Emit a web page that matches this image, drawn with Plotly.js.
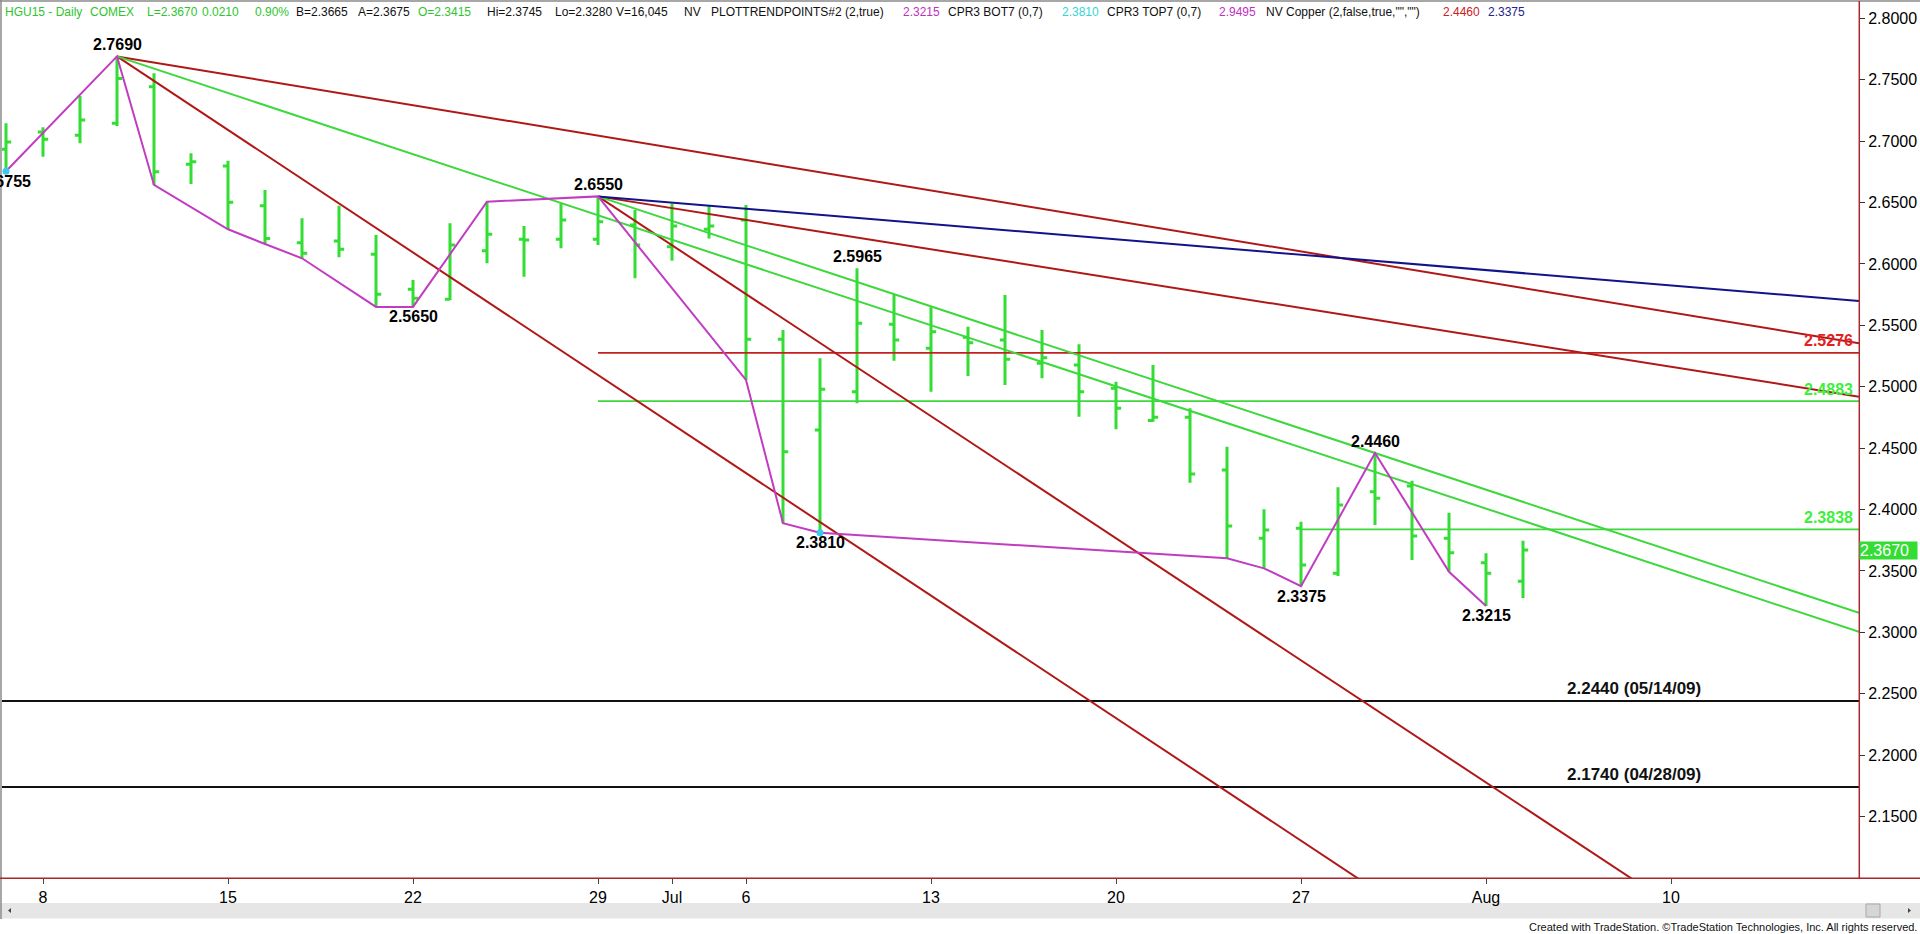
<!DOCTYPE html>
<html><head><meta charset="utf-8">
<script src="https://cdn.plot.ly/plotly-3.0.1.min.js"></script>
<style>html,body{margin:0;padding:0;background:#fff;overflow:hidden}#chart{width:1920px;height:934px}</style>
</head><body><div id="chart"></div>
<script>
// ---------------- DATA ----------------
const dates = ['2015-06-05','2015-06-08','2015-06-09','2015-06-10','2015-06-11','2015-06-12',
 '2015-06-15','2015-06-16','2015-06-17','2015-06-18','2015-06-19',
 '2015-06-22','2015-06-23','2015-06-24','2015-06-25','2015-06-26',
 '2015-06-29','2015-06-30','2015-07-01','2015-07-02',
 '2015-07-06','2015-07-07','2015-07-08','2015-07-09','2015-07-10',
 '2015-07-13','2015-07-14','2015-07-15','2015-07-16','2015-07-17',
 '2015-07-20','2015-07-21','2015-07-22','2015-07-23','2015-07-24',
 '2015-07-27','2015-07-28','2015-07-29','2015-07-30','2015-07-31',
 '2015-08-03','2015-08-04'];
const opens = [2.6933,2.7074,2.7047,2.7145,2.7443,2.6811,
 2.6797,2.6474,2.6173,2.6187,2.6078,
 2.5793,2.5712,2.6107,2.6200,2.6200,
 2.6200,2.6317,2.6140,2.6282,
 2.6357,2.5386,2.4647,2.4959,2.5508,
 2.5313,2.5402,2.5380,2.5191,2.5177,
 2.4987,2.4725,2.4751,2.4322,2.3765,
 2.3847,2.3480,2.4145,2.4191,2.3765,
 2.3567,2.3415];
const highs = [2.7145,2.7112,2.7367,2.7690,2.7552,2.6901,
 2.6840,2.6602,2.6371,2.6474,2.6235,
 2.5869,2.6331,2.6507,2.6309,2.6493,
 2.6550,2.6439,2.6493,2.6471,
 2.6480,2.5462,2.5231,2.5965,2.5747,
 2.5647,2.5489,2.5747,2.5462,2.5345,
 2.5041,2.5177,2.4824,2.4511,2.4002,
 2.3901,2.4181,2.4460,2.4235,2.3974,
 2.3643,2.3745];
const lows = [2.6755,2.6873,2.6982,2.7123,2.6643,2.6651,
 2.6282,2.6162,2.6046,2.6054,2.5650,
 2.5650,2.5706,2.6005,2.5896,2.6127,
 2.6154,2.5883,2.6026,2.6208,
 2.5055,2.3888,2.3810,2.4865,2.5212,
 2.4959,2.5087,2.5014,2.5068,2.4756,
 2.4653,2.4715,2.4218,2.3603,2.3521,
 2.3375,2.3458,2.3874,2.3589,2.3493,
 2.3215,2.3280];
const closes = [2.6993,2.7015,2.7172,2.7511,2.6751,2.6832,
 2.6502,2.6208,2.6086,2.6119,2.5752,
 2.5720,2.6154,2.6241,2.6195,2.6357,
 2.6344,2.6154,2.6309,2.6309,
 2.5386,2.4471,2.4979,2.5516,2.5380,
 2.5448,2.5358,2.5223,2.5236,2.4959,
 2.4824,2.4751,2.4289,2.3866,2.3833,
 2.3548,2.4037,2.4091,2.3784,2.3648,
 2.3480,2.3670];

const holidays = ['2015-07-03'];
const tickDates = ['2015-06-08','2015-06-15','2015-06-22','2015-06-29','2015-07-01','2015-07-06','2015-07-13','2015-07-20','2015-07-27','2015-08-03','2015-08-10'];
const tickLabels = ['8','15','22','29','Jul','6','13','20','27','Aug','10'];
const priceTicks = [2.15,2.20,2.25,2.30,2.35,2.40,2.45,2.50,2.55,2.60,2.65,2.70,2.75,2.80];

// swing-point line (PLOTTRENDPOINTS)
const pivotDates = ['2015-06-05','2015-06-10','2015-06-11','2015-06-15','2015-06-16','2015-06-17','2015-06-19','2015-06-22','2015-06-24','2015-06-29','2015-07-06','2015-07-07','2015-07-08','2015-07-23','2015-07-24','2015-07-27','2015-07-29','2015-07-31','2015-08-03'];
const pivotValues = [2.6755,2.7690,2.6643,2.6282,2.6162,2.6046,2.5650,2.5650,2.6507,2.6550,2.5055,2.3888,2.3810,2.3603,2.3521,2.3375,2.4460,2.3493,2.3215];

// CPR3 BOT7 dots
const dotDates = ['2015-06-05','2015-07-08'];
const dotValues = [2.6755,2.3810];

// labelled swing highs / lows
const labelDates = ['2015-06-05','2015-06-10','2015-06-22','2015-06-29','2015-07-08','2015-07-09','2015-07-27','2015-07-29','2015-08-03'];
const labelValues = [2.6755,2.7690,2.5650,2.6550,2.3810,2.5965,2.3375,2.4460,2.3215];
const labelSides = ['low','high','low','high','low','high','low','high','low'];

// trend lines (two anchors each, extended to the right edge)
const trendStartDates = ['2015-06-10','2015-06-29','2015-06-10','2015-06-29','2015-06-10','2015-06-29','2015-06-29'];
const trendStartValues = [2.7690,2.6550,2.7690,2.6550,2.7690,2.6550,2.6550];
const trendEndDates = ['2015-08-17','2015-08-17','2015-07-27','2015-08-03','2015-08-17','2015-07-29','2015-08-17'];
const trendEndValues = [2.5357,2.4923,2.1303,2.1777,2.3012,2.4460,2.5700];
const trendKinds = ['red','red','red','red','green','green','blue'];

// horizontal levels
const levelValues = [2.5276,2.4883,2.3838,2.2440,2.1740];
const levelStartDates = ['2015-06-29','2015-06-29','2015-07-27',null,null];
const levelNotes = ['','','',' (05/14/09)',' (04/28/09)'];
const levelKinds = ['red','green','green','black','black'];

const lastClose = 2.3670;

// header text pieces
const headerTexts = ['HGU15 - Daily','COMEX','L=2.3670','0.0210','0.90%','B=2.3665','A=2.3675','O=2.3415','Hi=2.3745','Lo=2.3280','V=16,045','NV','PLOTTRENDPOINTS#2 (2,true)','2.3215','CPR3 BOT7 (0,7)','2.3810','CPR3 TOP7 (0,7)','2.9495','NV Copper (2,false,true,"","")','2.4460','2.3375'];
const headerKinds = ['g','g','g','g','g','k','k','g','k','k','k','k','k','m','k','c','k','m','k','r','b'];
const creditText = 'Created with TradeStation. \u00a9TradeStation Technologies, Inc. All rights reserved.';

// ---------------- LAYOUT / STYLE ----------------
const W = 1920, H = 934, ML = 2, MR = 61, MT = 2, MB = 56;
const PW = W - ML - MR, PH = H - MT - MB;
const headerX = [3.6,89,146,201,254,295,357,417,486,554,615,683,710,902,947,1061,1106,1218,1265,1442,1487];
const headerColors = {g:'#2fc42f',k:'#111111',m:'#c030c0',c:'#33d6d6',r:'#cc2020',b:'#22228c'};
const lineColors = {red:'#b01818',green:'#3cd83c',blue:'#12128a',black:'#111111'};
const levelLineColors = {red:'#c42020',green:'#3cd83c',black:'#111111'};
const levelTextColors = {red:'#e02222',green:'#3cf03c',black:'#111111'};
const barGreen = '#33dd33';
const axisRed = '#a8282d';
const FONT = 'Arial, "Liberation Sans", sans-serif';

// trading calendar
function buildCalendar(start, count, skip) {
  const out = [];
  let t = Date.UTC(+start.slice(0,4), +start.slice(5,7)-1, +start.slice(8,10));
  while (out.length < count) {
    const d = new Date(t);
    const s = d.toISOString().slice(0,10);
    const wd = d.getUTCDay();
    if (wd !== 0 && wd !== 6 && skip.indexOf(s) < 0) out.push(s);
    t += 86400000;
  }
  return out;
}
const calendar = buildCalendar(dates[0], 70, holidays);
const ix = d => calendar.indexOf(d);

const xMin = -0.108, xMax = 50.081;
const yMin = 2.0999, yMax = 2.8133;

const px2x = p => (p - ML) / PW;
const py2y = p => (MT + PH - p) / PH;

const traces = [];
traces.push({
  type:'ohlc', x: dates.map(ix), open: opens, high: highs, low: lows, close: closes,
  increasing:{line:{color:barGreen, width:3}}, decreasing:{line:{color:barGreen, width:3}},
  tickwidth:0.14, hoverinfo:'skip', showlegend:false
});

// horizontal levels
levelValues.forEach((v,i) => {
  const x0 = levelStartDates[i] ? ix(levelStartDates[i]) : xMin;
  traces.push({type:'scatter', mode:'lines', x:[x0, xMax], y:[v, v],
    line:{color:levelLineColors[levelKinds[i]], width: levelKinds[i]==='black'?2:1.8},
    hoverinfo:'skip', showlegend:false});
});

// trend lines
trendStartDates.forEach((d,i) => {
  const i0 = ix(d), i1 = ix(trendEndDates[i]);
  const v0 = trendStartValues[i], v1 = trendEndValues[i];
  const slope = (v1 - v0) / (i1 - i0);
  traces.push({type:'scatter', mode:'lines', x:[i0, xMax], y:[v0, v0 + slope*(xMax - i0)],
    line:{color:lineColors[trendKinds[i]], width:2}, hoverinfo:'skip', showlegend:false});
});

// pivot line
traces.push({type:'scatter', mode:'lines', x:pivotDates.map(ix), y:pivotValues,
  line:{color:'#c23cc2', width:2}, hoverinfo:'skip', showlegend:false});
// cyan dots
traces.push({type:'scatter', mode:'markers', x:dotDates.map(ix), y:dotValues,
  marker:{color:'#3cc8f0', size:7}, hoverinfo:'skip', showlegend:false, cliponaxis:false});

const annotations = [];
labelDates.forEach((d,i) => {
  annotations.push({xref:'x', yref:'y', x:ix(d), y:labelValues[i], text:labelValues[i].toFixed(4),
    showarrow:false, xanchor:'center', yanchor:'middle', yshift: labelSides[i]==='high'?12:-10,
    font:{family:FONT, size:16, color:'#000', weight:'bold'}});
});
levelValues.forEach((v,i) => {
  const k = levelKinds[i];
  const black = k === 'black';
  annotations.push({xref:'paper', yref:'y', x: black ? px2x(1633.5) : px2x(1855), y:v,
    text: v.toFixed(4) + levelNotes[i], showarrow:false,
    xanchor: black ? 'center' : 'right', yanchor:'middle', yshift: black ? 13 : 12,
    font:{family:FONT, size: black ? 17 : 16, color:levelTextColors[k], weight:'bold'}});
});
headerTexts.forEach((t,i) => {
  annotations.push({xref:'paper', yref:'paper', x:px2x(headerX[i]), y:py2y(11.7), text:t,
    showarrow:false, xanchor:'left', yanchor:'middle', borderpad:0,
    font:{family:FONT, size:12, color:headerColors[headerKinds[i]]}});
});
annotations.push({xref:'paper', yref:'paper', x:px2x(1918), y:py2y(927), text:creditText,
  showarrow:false, xanchor:'right', yanchor:'middle', borderpad:0,
  font:{family:FONT, size:11, color:'#111'}});
annotations.push({xref:'paper', yref:'y', x:px2x(1859.5), y:lastClose, text:lastClose.toFixed(4),
  showarrow:false, xanchor:'left', yanchor:'middle', width:57, height:17, align:'left',
  bgcolor:'#33dd33', borderpad:0, font:{family:FONT, size:16, color:'#ffffff'}});

const shapes = [
  // scrollbar
  {type:'rect', xref:'paper', yref:'paper', x0:px2x(0), x1:px2x(1920), y0:py2y(918.5), y1:py2y(903), fillcolor:'#e6e6e6', line:{width:0}, layer:'below'},
  {type:'rect', xref:'paper', yref:'paper', x0:px2x(1866), x1:px2x(1880), y0:py2y(917), y1:py2y(904), fillcolor:'#d6d6d6', line:{color:'#a8a8a8', width:1}},
  {type:'path', xref:'paper', yref:'paper', path:`M ${px2x(8)},${py2y(910.5)} L ${px2x(11)},${py2y(908)} L ${px2x(11)},${py2y(913)} Z`, fillcolor:'#444', line:{width:0}},
  {type:'path', xref:'paper', yref:'paper', path:`M ${px2x(1911)},${py2y(910.5)} L ${px2x(1908)},${py2y(908)} L ${px2x(1908)},${py2y(913)} Z`, fillcolor:'#444', line:{width:0}},
  // frame
  {type:'line', xref:'paper', yref:'paper', x0:px2x(1), x1:px2x(1), y0:py2y(0), y1:py2y(919), line:{color:'#8a8a8a', width:1.5}},
  {type:'line', xref:'paper', yref:'paper', x0:px2x(0), x1:px2x(1920), y0:py2y(1), y1:py2y(1), line:{color:'#8a8a8a', width:1.5}},
  {type:'line', xref:'paper', yref:'paper', x0:px2x(0), x1:px2x(1920), y0:py2y(878.3), y1:py2y(878.3), line:{color:axisRed, width:1.5}},
  {type:'line', xref:'paper', yref:'paper', x0:px2x(1859.3), x1:px2x(1859.3), y0:py2y(1), y1:py2y(878.3), line:{color:axisRed, width:1.5}}
];

const layout = {
  width:W, height:H, margin:{l:ML, r:MR, t:MT, b:MB, pad:0},
  paper_bgcolor:'#ffffff', plot_bgcolor:'#ffffff', showlegend:false,
  font:{family:FONT, color:'#000'},
  xaxis:{range:[xMin, xMax], rangeslider:{visible:false}, showgrid:false, zeroline:false, showline:false,
    tickmode:'array', tickvals:tickDates.map(ix), ticktext:tickLabels, ticks:'outside', ticklen:5, tickwidth:1, tickcolor:'#444',
    tickfont:{family:FONT, size:16, color:'#000'}, fixedrange:true},
  yaxis:{range:[yMin, yMax], side:'right', showgrid:false, zeroline:false, showline:false,
    tickmode:'array', tickvals:priceTicks, tickformat:'.4f', ticks:'outside', ticklen:5, tickwidth:1, tickcolor:'#333',
    tickfont:{family:FONT, size:16, color:'#000'}, fixedrange:true},
  annotations, shapes
};

Plotly.newPlot('chart', traces, layout, {staticPlot:true, displayModeBar:false});
</script>
</body></html>
